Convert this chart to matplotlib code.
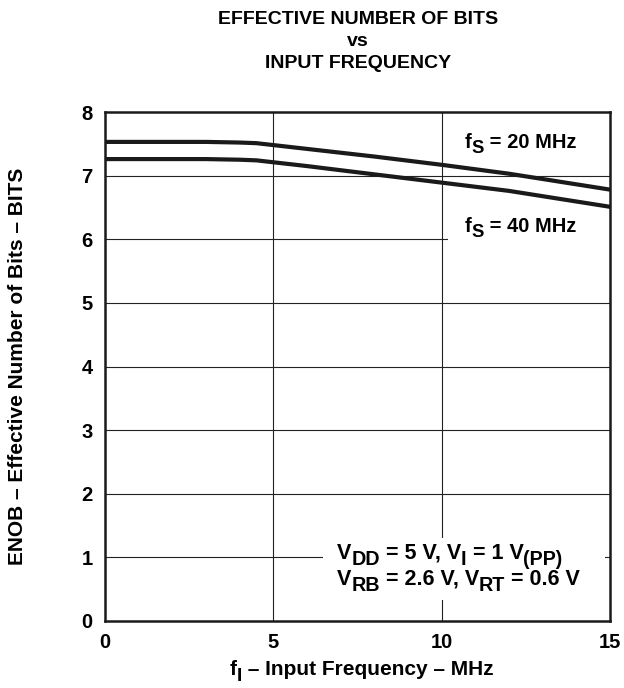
import matplotlib
matplotlib.use("Agg")
import matplotlib.pyplot as plt
from matplotlib.patches import Rectangle

plt.rcParams['font.family'] = ['Liberation Sans', 'DejaVu Sans']
plt.rcParams['font.weight'] = 'bold'
plt.rcParams['axes.labelweight'] = 'bold'

# input frequency (MHz)
freq = [0, 2, 3, 4, 4.5, 5, 6, 8, 10, 12, 15]
# ENOB for fs = 20 MHz and 40 MHz
enob_20 = [7.53, 7.53, 7.53, 7.52, 7.51, 7.48, 7.42, 7.30, 7.17, 7.03, 6.78]
enob_40 = [7.26, 7.26, 7.26, 7.25, 7.24, 7.21, 7.15, 7.02, 6.89, 6.76, 6.51]

xticks = [0, 5, 10, 15]
yticks = [0, 1, 2, 3, 4, 5, 6, 7, 8]

SUB = 0.92

fig = plt.figure(figsize=(6.24, 6.88), dpi=100)
ax = fig.add_axes([105/624, 1-621/688, 505/624, 509/688])


def widths(parts, size):
    r = fig.canvas.get_renderer()
    ws = []
    for s, sub in parts:
        fs = size*SUB if sub else size
        t1 = fig.text(0, 0, 'X' + s + 'X', fontsize=fs)
        t2 = fig.text(0, 0, 'XX', fontsize=fs)
        ws.append(t1.get_window_extent(r).width - t2.get_window_extent(r).width)
        t1.remove()
        t2.remove()
    return ws


def rich_text(x, y, parts, size, ha='center'):
    # text with near full size subscripts, baseline at y
    ws = widths(parts, size)
    off = -sum(ws)/2 if ha == 'center' else 0
    for (s, sub), w in zip(parts, ws):
        fs = size*SUB if sub else size
        dy = -size*0.28 if sub else 0
        ax.annotate(s, (x, y), xytext=(off*72/fig.dpi, dy), textcoords='offset points',
                    fontsize=fs, ha='left', va='baseline', zorder=5)
        off += w


for y in yticks[1:-1]:
    ax.axhline(y, color='#222222', lw=0.8, zorder=1)
for x in xticks[1:-1]:
    ax.axvline(x, color='#222222', lw=0.8, zorder=1)

# white masks behind the labels
ax.add_patch(Rectangle((10.2, 5.8), 4.8, 0.45, facecolor='white', edgecolor='none', zorder=2))
ax.add_patch(Rectangle((6.47, 0.33), 8.37, 0.97, facecolor='white', edgecolor='none', zorder=2))

ax.plot(freq, enob_20, color='#1a1a1a', lw=3, zorder=3)
ax.plot(freq, enob_40, color='#1a1a1a', lw=3, zorder=3)

rich_text(12.35, 7.44, [('f', False), ('S', True), (' = 20 MHz', False)], 14.5)
rich_text(12.35, 6.12, [('f', False), ('S', True), (' = 40 MHz', False)], 14.5)
rich_text(6.89, 0.975, [('V', False), ('DD', True), (' = 5 V, V', False), ('I', True),
                        (' = 1 V', False), ('(PP)', True)], 15.5, ha='left')
rich_text(6.89, 0.57, [('V', False), ('RB', True), (' = 2.6 V, V', False), ('RT', True),
                       (' = 0.6 V', False)], 15.5, ha='left')

ax.set_xlim(0, 15)
ax.set_ylim(0, 8)
ax.set_xticks(xticks)
ax.set_yticks(yticks)
ax.tick_params(length=0, labelsize=14.5, pad=9)
for s in ax.spines.values():
    s.set_linewidth(1.8)
    s.set_color('#1a1a1a')

ax.set_ylabel('ENOB – Effective Number of Bits – BITS', fontsize=15)
ax.yaxis.set_label_coords(-(105-27)/505, 0.5)

fig.text(358/624, 1-19/688, 'EFFECTIVE NUMBER OF BITS', ha='center', va='center', fontsize=14)
fig.text(358/624, 1-41/688, 'vs', ha='center', va='center', fontsize=14)
fig.text(358/624, 1-64/688, 'INPUT FREQUENCY', ha='center', va='center', fontsize=14)

# x label with subscript, drawn below the axes
xl_parts = [('f', False), ('I', True), (' – Input Frequency – MHz', False)]
ws = widths(xl_parts, 15)
px = 362 - sum(ws)/2
for (s, sub), w in zip(xl_parts, ws):
    fs = 15*SUB if sub else 15
    base = 675 + (15*0.28*100/72 if sub else 0)
    fig.text(px/624, 1-base/688, s, fontsize=fs, ha='left', va='baseline')
    px += w

fig.savefig('out.png', dpi=100)
